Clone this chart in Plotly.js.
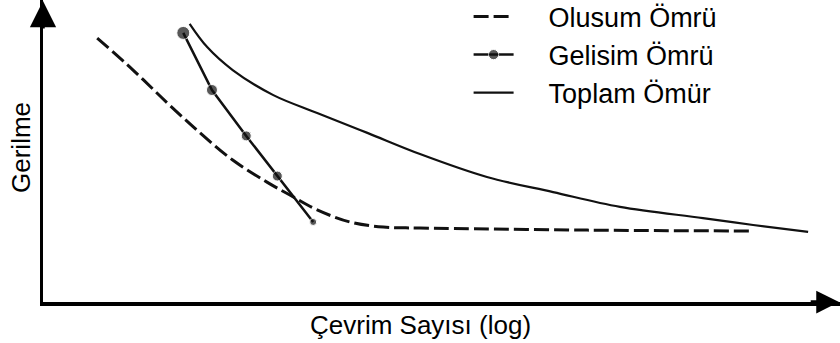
<!DOCTYPE html>
<html>
<head>
<meta charset="utf-8">
<script src="https://cdn.plot.ly/plotly-3.0.1.min.js"></script>
<style>html,body{margin:0;padding:0;background:#fff;}#chart{width:840px;height:343px;}</style>
</head>
<body>
<div id="chart"></div>
<script>
// Schematic S-N style curves (arbitrary units: x = log cycles, y = stress)
const olusumX = [0.68, 1.13, 1.56, 1.97, 2.38, 2.81, 3.14, 3.44, 3.85, 4.27, 4.73, 6.83, 8.91];
const olusumY = [8.74, 7.68, 6.59, 5.60, 4.70, 3.97, 3.48, 3.05, 2.65, 2.48, 2.45, 2.38, 2.35];

const gelisimX = [1.76, 2.12, 2.55, 2.94, 3.39];
const gelisimY = [8.91, 7.02, 5.50, 4.17, 2.65];

const toplamX = [1.84, 2.06, 2.38, 2.89, 3.44, 4.07, 4.73, 5.57, 6.40, 7.24, 8.28, 8.91, 9.60];
const toplamY = [9.21, 8.44, 7.68, 6.85, 6.26, 5.60, 4.90, 4.14, 3.64, 3.15, 2.78, 2.55, 2.32];

const seriesNames = ["Olusum Ömrü", "Gelisim Ömrü", "Toplam Ömür"];
const xTitle = "Çevrim Sayısı (log)";
const yTitle = "Gerilme";

const FONT = "Liberation Sans, Arial, sans-serif";
const PAD = "\u00a0\u00a0\u00a0\u00a0"; // visual gap between legend symbol and label

const traces = [
  {x: olusumX, y: olusumY, name: PAD + seriesNames[0], mode: "lines",
   line: {shape: "spline", color: "#111", width: 3, dash: "15px,5px"}},
  {x: gelisimX, y: gelisimY, name: PAD + seriesNames[1], mode: "lines+markers",
   line: {color: "#111", width: 2.5}, marker: {color: "#111", size: [13, 11, 10, 10, 7]}},
  {x: toplamX, y: toplamY, name: PAD + seriesNames[2], mode: "lines",
   line: {shape: "spline", color: "#111", width: 2.2}}
];

const layout = {
  width: 840, height: 343,
  margin: {l: 43, r: 0, t: 0, b: 41, autoexpand: false},
  paper_bgcolor: "#fff", plot_bgcolor: "#fff",
  font: {family: FONT, color: "#000", size: 26},
  showlegend: true,
  legend: {x: 0.534, y: 1.025, xanchor: "left", yanchor: "top", bgcolor: "rgba(0,0,0,0)",
           font: {size: 27, family: FONT}, itemwidth: 40, tracegroupgap: 0},
  xaxis: {range: [0, 10], showline: true, linecolor: "#000", linewidth: 3.5, showgrid: false,
          zeroline: false, showticklabels: false, ticks: "", mirror: false},
  yaxis: {range: [0, 10], showline: true, linecolor: "#000", linewidth: 3.5, showgrid: false,
          zeroline: false, showticklabels: false, ticks: "", mirror: false},
  annotations: [
    {xref: "paper", yref: "paper", x: 0, y: 1.0, ax: 0, ay: 30, text: "", showarrow: true,
     arrowhead: 2, arrowsize: 1.5, arrowwidth: 3.5, arrowcolor: "#000"},
    {xref: "paper", yref: "paper", x: 0.999, y: 0, ax: -30, ay: 0, text: "", showarrow: true,
     arrowhead: 2, arrowsize: 1.3, arrowwidth: 3.5, arrowcolor: "#000"},
    {xref: "paper", yref: "paper", x: 0.474, y: 0, yshift: -6, xanchor: "center", yanchor: "top",
     text: xTitle, showarrow: false, font: {size: 26, family: FONT}},
    {xref: "paper", yref: "paper", x: 0, xshift: -22, y: 0.51, xanchor: "center", yanchor: "middle",
     text: yTitle, textangle: -90, showarrow: false, font: {size: 26, family: FONT}}
  ]
};

Plotly.newPlot("chart", traces, layout, {displayModeBar: false, staticPlot: true});
</script>
</body>
</html>
